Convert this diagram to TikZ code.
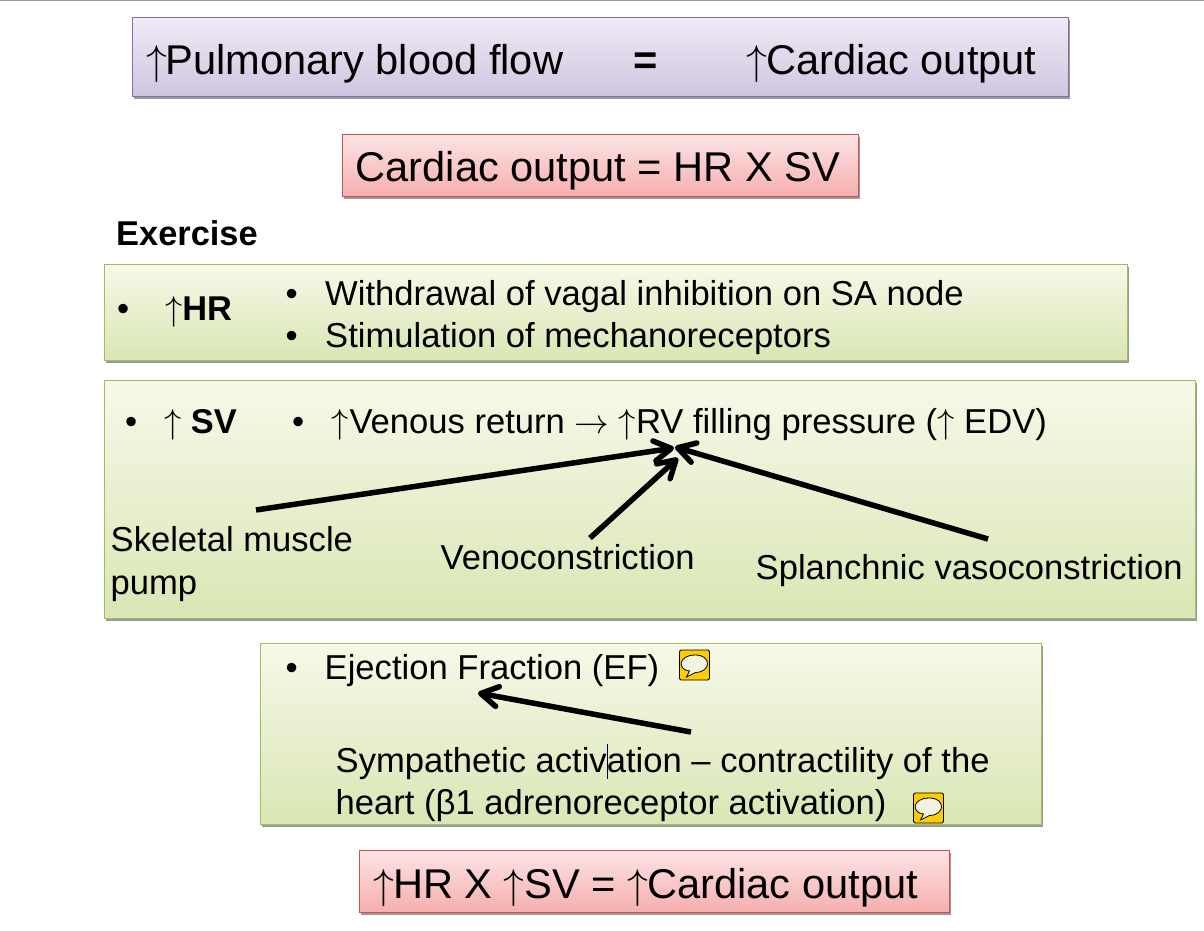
\documentclass[tikz,border=0pt]{standalone}
\usepackage{fix-cm}
\usepackage{fontspec}
\setmainfont{Liberation Sans}
\usetikzlibrary{arrows.meta,shadows}

\definecolor{purpletop}{RGB}{240,235,245}
\definecolor{purplebot}{RGB}{208,196,224}
\definecolor{purpleline}{RGB}{128,112,168}
\definecolor{redtop}{RGB}{252,228,228}
\definecolor{redbot}{RGB}{246,174,174}
\definecolor{redline}{RGB}{205,80,78}
\definecolor{greentop}{RGB}{246,249,233}
\definecolor{greenbot}{RGB}{218,230,180}
\definecolor{greenline}{RGB}{160,190,95}
\definecolor{iconyellow}{RGB}{255,204,0}
\definecolor{bubblefill}{RGB}{240,244,225}

\tikzset{
  panel/.style={rectangle,draw,line width=1pt,inner sep=0pt,
    drop shadow={shadow xshift=1.5pt,shadow yshift=-2.5pt,opacity=.4,fill=black}},
  purplebox/.style={panel,draw=purpleline,top color=purpletop,bottom color=purplebot},
  redbox/.style={panel,draw=redline,top color=redtop,bottom color=redbot},
  greenbox/.style={panel,draw=greenline,top color=greentop,bottom color=greenbot},
  txt/.style={inner sep=0pt,anchor=base west,font=\fontsize{34.6}{34.6}\selectfont},
  bigtxt/.style={inner sep=0pt,anchor=base west,font=\fontsize{41.6}{41.6}\selectfont},
  boldtxt/.style={txt,font=\fontsize{34.4}{34.4}\selectfont\bfseries},
  thickarrow/.style={line width=5.5pt,-{Straight Barb[length=17pt,width=20pt,line width=5.5pt,round]}},
  noteicon/.style={draw=black,fill=iconyellow,rounded corners=1.5pt,minimum size=30pt,inner sep=0pt,line width=.8pt}
}

\newcommand{\upa}{$\uparrow$}
\newcommand{\rta}{$\rightarrow$}

% comment icon: name, centre x, centre y
\newcommand{\commenticon}[3]{
  \node[noteicon] (#1) at (#2,#3) {};
  \draw[fill=bubblefill,line width=.8pt] (#2-5,#3+6) -- (#2-8,#3+12) -- (#2+1,#3+7.5)
    .. controls (#2+17,#3+7) and (#2+17,#3-10) .. (#2+1,#3-10)
    .. controls (#2-17,#3-10) and (#2-17,#3+5) .. (#2-5,#3+6) -- cycle;
}

\begin{document}
\begin{tikzpicture}[x=1pt,y=-1pt]
  \useasboundingbox (0,0) rectangle (1204,930);
  \fill[white] (0,0) rectangle (1204,930);
  \coordinate (topl) at (0,0.5);
  \coordinate (topr) at (1204,0.5);
  \draw[gray!80,line width=1.2pt] (topl) -- (topr);

  % top boxes
  \node[purplebox,minimum width=936pt,minimum height=79pt] (flowbox) at (600,57) {};
  \node[bigtxt] (flow) at (146,74) {\upa\kern-1.5pt Pulmonary blood flow};
  \node[bigtxt,font=\fontsize{41.6}{41.6}\selectfont\bfseries] (equal) at (633,74) {=};
  \node[bigtxt] (output) at (746,74) {\upa\kern-1pt Cardiac output};

  \node[redbox,minimum width=516pt,minimum height=62pt] (formbox) at (600,165.5) {};
  \node[bigtxt] (form) at (355.5,181) {Cardiac output = HR X SV};

  \node[boldtxt] (exercise) at (116,245.5) {Exercise};

  % HR
  \node[greenbox,minimum width=1023pt,minimum height=96pt] (hrbox) at (615.5,312) {};
  \node[txt] (hrdot) at (117,320) {•};
  \node[boldtxt] (hr) at (165,320) {\upa HR};
  \node[txt] (vagaldot) at (285.5,305) {•};
  \node[txt] (vagal) at (325,305) {Withdrawal of vagal inhibition on SA node};
  \node[txt] (mechdot) at (285.5,347) {•};
  \node[txt] (mech) at (325,347) {Stimulation of mechanoreceptors};

  % SV
  \node[greenbox,minimum width=1091pt,minimum height=238pt] (svbox) at (649.5,499) {};
  \node[txt] (svdot) at (125,433) {•};
  \node[boldtxt] (sv) at (164,433) {\upa{} SV};
  \node[txt] (venousdot) at (292,433) {•};
  \node[txt] (venous) at (331.5,433) {\upa\kern.5pt Venous return \rta{} \upa RV filling pressure (\upa{} EDV)};
  \node[txt] (muscle) at (110.5,551) {Skeletal muscle};
  \node[txt] (pump) at (110.5,594) {pump};
  \node[txt] (veno) at (440.5,569) {Venoconstriction};
  \node[txt] (splanch) at (755.5,579) {Splanchnic vasoconstriction};

  \coordinate (musclestart) at (256,510);
  \coordinate (muscleend) at (674,448);
  \coordinate (venostart) at (590,538);
  \coordinate (venoend) at (678,458);
  \coordinate (splanchstart) at (988,539);
  \coordinate (splanchend) at (675,447);
  \draw[thickarrow] (musclestart) -- (muscleend);
  \draw[thickarrow] (venostart) -- (venoend);
  \draw[thickarrow] (splanchstart) -- (splanchend);

  % EF
  \node[greenbox,minimum width=781pt,minimum height=181pt] (efbox) at (650.5,733.5) {};
  \node[txt] (efdot) at (285.5,679) {•};
  \node[txt] (ef) at (324.5,679) {Ejection Fraction (EF)};
  \commenticon{efnote}{694.5}{665}
  \node[txt] (symp) at (335.5,772) {Sympathetic activation – contractility of the};
  \node[txt] (heart) at (335.5,814) {heart (β1 adrenoreceptor activation)};
  \commenticon{heartnote}{928.5}{808}
  \coordinate (cursortop) at (607,744);
  \coordinate (cursorbot) at (607,779);
  \draw[blue!30!black,line width=.8pt] (cursortop) -- (cursorbot);
  \coordinate (sympstart) at (691,732);
  \coordinate (sympend) at (478,693);
  \draw[thickarrow] (sympstart) -- (sympend);

  % bottom box
  \node[redbox,minimum width=590pt,minimum height=62pt] (resultbox) at (654,881.5) {};
  \node[bigtxt] (result) at (373,898.5) {\upa\kern-1pt HR X \upa SV = \upa\kern-1pt Cardiac output};
\end{tikzpicture}
\end{document}
